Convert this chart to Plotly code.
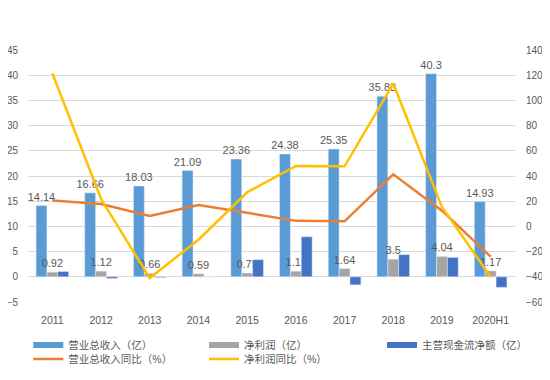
import plotly.graph_objects as go

years = ["2011", "2012", "2013", "2014", "2015", "2016", "2017", "2018", "2019", "2020H1"]
revenue = [14.14, 16.66, 18.03, 21.09, 23.36, 24.38, 25.35, 35.83, 40.3, 14.93]
net_profit = [0.92, 1.12, 0.66, 0.59, 0.75, 1.11, 1.64, 3.5, 4.04, 1.17]
cash_flow = [1.05, -0.35, -0.15, 0.0, 3.4, 7.95, -1.6, 4.4, 3.85, -2.1]
revenue_yoy = [20.5, 17.8, 8.2, 17.0, 10.8, 4.4, 4.0, 41.3, 12.5, -24.0]
profit_yoy = [121.5, 21.7, -41.0, -10.6, 27.1, 48.0, 47.7, 113.4, 15.4, -40.0]

names = ["营业总收入（亿）", "净利润（亿）", "主营现金流净额（亿）", "营业总收入同比（%）", "净利润同比（%）"]
colors = ["#5B9BD5", "#A5A5A5", "#4472C4", "#ED7D31", "#FFC000"]

FONT = "Liberation Sans, Noto Sans CJK SC, sans-serif"
TXT = "#595959"

fig = go.Figure()
fig.add_trace(go.Bar(
    x=years, y=revenue, name=names[0], marker_color=colors[0], showlegend=False,
    text=[str(v) for v in revenue], textposition="outside", constraintext="none",
    cliponaxis=False, textfont=dict(size=11, color=TXT, family=FONT),
))
fig.add_trace(go.Bar(
    x=years, y=net_profit, name=names[1], marker_color=colors[1], showlegend=False,
    text=[str(v) for v in net_profit], textposition="outside", constraintext="none",
    cliponaxis=False, textfont=dict(size=11, color=TXT, family=FONT),
))
fig.add_trace(go.Bar(
    x=years, y=cash_flow, name=names[2], marker_color=colors[2], showlegend=False,
))
fig.add_trace(go.Scatter(
    x=years, y=revenue_yoy, name=names[3], mode="lines",
    line=dict(color=colors[3], width=2.5), yaxis="y2", legend="legend4",
))
fig.add_trace(go.Scatter(
    x=years, y=profit_yoy, name=names[4], mode="lines",
    line=dict(color=colors[4], width=2.5), yaxis="y2", legend="legend5",
))
# legend swatches (rectangles) for the bar series
for i, lg in zip(range(3), ["legend", "legend2", "legend3"]):
    fig.add_trace(go.Scatter(
        x=[None], y=[None], name=names[i], mode="lines",
        line=dict(color=colors[i], width=6), legend=lg, hoverinfo="skip",
    ))

# plot area in page pixels: x 28..515, y 50..301.5 (page has 8px body margin)
W, H = 542, 372
ML, MR, MT, MB = 20, 35, 42, 78
pw, ph = W - ML - MR, H - MT - MB


def lx(text_left_page):
    return (text_left_page - 8 - 41 - ML) / pw


def ly(center_page):
    return (H - MB - (center_page - 8)) / ph


leg_common = dict(
    orientation="v", xanchor="left", yanchor="middle",
    font=dict(size=10.5, color=TXT, family=FONT), itemwidth=30,
    bgcolor="rgba(0,0,0,0)", borderwidth=0,
)
row1, row2 = 345, 359
cols = [69.3, 245, 423]

fig.update_layout(
    width=W, height=H,
    margin=dict(l=ML, r=MR, t=MT, b=MB, autoexpand=False),
    paper_bgcolor="white", plot_bgcolor="white",
    font=dict(family=FONT, size=11, color=TXT),
    barmode="group", bargap=0.33, bargroupgap=0,
    showlegend=True,
    legend=dict(x=lx(cols[0]), y=ly(row1), **leg_common),
    legend2=dict(x=lx(cols[1]), y=ly(row1), **leg_common),
    legend3=dict(x=lx(cols[2]), y=ly(row1), **leg_common),
    legend4=dict(x=lx(cols[0]), y=ly(row2), **leg_common),
    legend5=dict(x=lx(cols[1]), y=ly(row2), **leg_common),
    xaxis=dict(
        type="category", showgrid=False, showline=False, ticks="",
        ticklabelstandoff=10, tickfont=dict(size=10.5, color=TXT),
    ),
    yaxis=dict(
        range=[-5, 45], dtick=5, tick0=0, showgrid=True, gridcolor="#D9D9D9",
        gridwidth=1, zeroline=True, zerolinecolor="#D9D9D9", zerolinewidth=1,
        showline=False, ticks="", ticklabelstandoff=9,
        tickfont=dict(size=10, color=TXT),
    ),
    yaxis2=dict(
        range=[-60, 140], dtick=20, tick0=0, overlaying="y", side="right",
        showgrid=False, zeroline=False, showline=False, ticks="",
        ticklabelstandoff=10, tickfont=dict(size=10, color=TXT),
    ),
)

fig.write_html("out.html")
